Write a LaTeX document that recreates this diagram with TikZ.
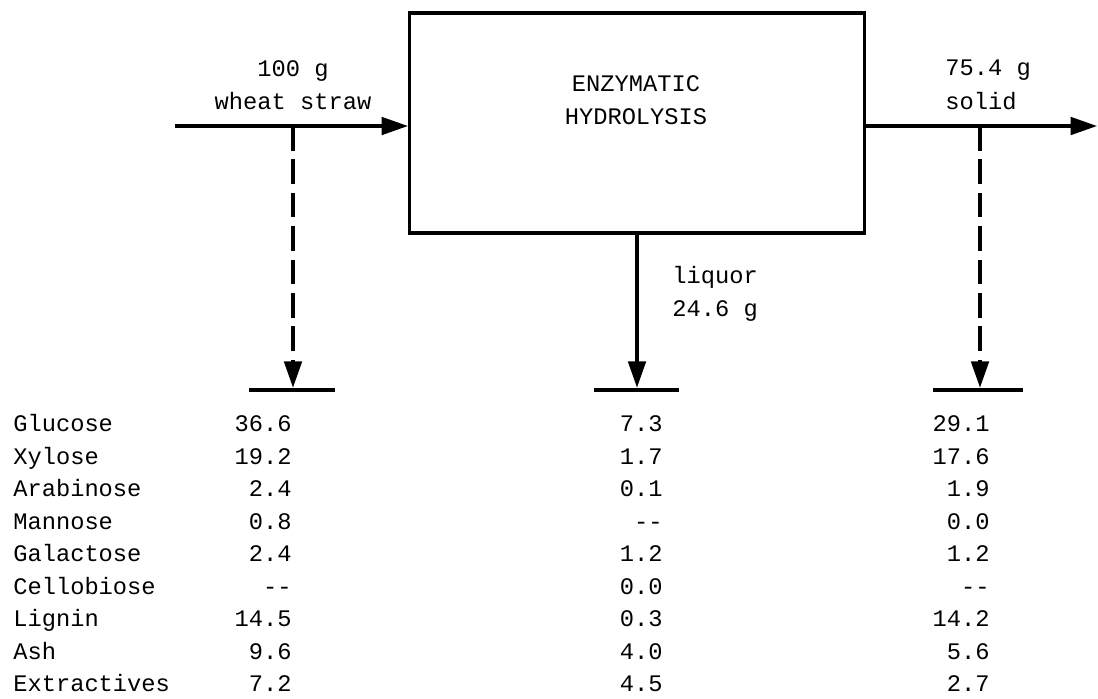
\documentclass[tikz,border=0pt]{standalone}
\usepackage{fontspec}
\newfontfamily\typefont{Liberation Mono}
\usetikzlibrary{arrows.meta,positioning,calc}

\begin{document}
\begin{tikzpicture}[
  x=0.02cm, y=-0.02cm,
  process/.style={rectangle, draw=black, line width=1.8pt, minimum width=9.1cm, minimum height=4.4cm, inner sep=0pt},
  bar/.style={rectangle, fill=black, inner sep=0pt, minimum width=1.74cm, minimum height=2.2pt},
  flow/.style={-{Triangle[length=15pt, width=10pt]}, line width=1.8pt},
  tap/.style={-{Triangle[length=15pt, width=10pt]}, line width=1.8pt, dash pattern=on 14pt off 5pt},
  note/.style={font=\typefont\fontsize{13.5}{19}\selectfont, inner sep=0pt},
  cell/.style={font=\typefont\fontsize{13.5}{19}\selectfont, inner sep=0pt, text height=1.6ex, text depth=.3ex}
]
\useasboundingbox (0,0) rectangle (1098,698);

% process block
\node[process] (proc) at (637,123) {};
\node[note, align=center] (title) at (636,100) {ENZYMATIC\\HYDROLYSIS};

% streams
\coordinate (feed) at (175,126);
\coordinate (outlet) at (1097,126);
\coordinate (tapA) at (293,126);
\coordinate (tapB) at (980,126);

\node[bar] (barA) at (292,390) {};
\node[bar, minimum width=1.7cm] (barB) at (636,390) {};
\node[bar, minimum width=1.8cm] (barC) at (978,390) {};

\draw[flow] (feed) -- (feed -| proc.west);
\draw[flow] (outlet -| proc.east) -- (outlet);
\draw[flow] (proc.south) -- (proc.south |- barB.north);
\draw[tap] (tapA) -- (tapA |- barA.north);
\draw[tap] (tapB) -- (tapB |- barC.north);

\node[note, align=center] (feedlbl) at (293,85) {100 g\\wheat straw};
\node[note, align=left, anchor=west] (solidlbl) at (945,85) {75.4 g\\solid};
\node[note, align=left, anchor=west] (liqlbl) at (672,294) {liquor\\24.6 g};

% composition table
\foreach \name/\feed/\liq/\sol [count=\i] in {Glucose/36.6/7.3/29.1, Xylose/19.2/1.7/17.6,
    Arabinose/2.4/0.1/1.9, Mannose/0.8/-{}-/0.0, Galactose/2.4/1.2/1.2,
    Cellobiose/-{}-/0.0/-{}-, Lignin/14.5/0.3/14.2, Ash/9.6/4.0/5.6, Extractives/7.2/4.5/2.7}{
  \node[cell, anchor=west] (comp\i) at (13,{427+32.5*(\i-1)}) {\name};
  \node[cell, anchor=east] (feed\i) at (292,{427+32.5*(\i-1)}) {\feed};
  \node[cell, anchor=east] (liq\i) at (663,{427+32.5*(\i-1)}) {\liq};
  \node[cell, anchor=east] (sol\i) at (990,{427+32.5*(\i-1)}) {\sol};
}

\end{tikzpicture}
\end{document}
